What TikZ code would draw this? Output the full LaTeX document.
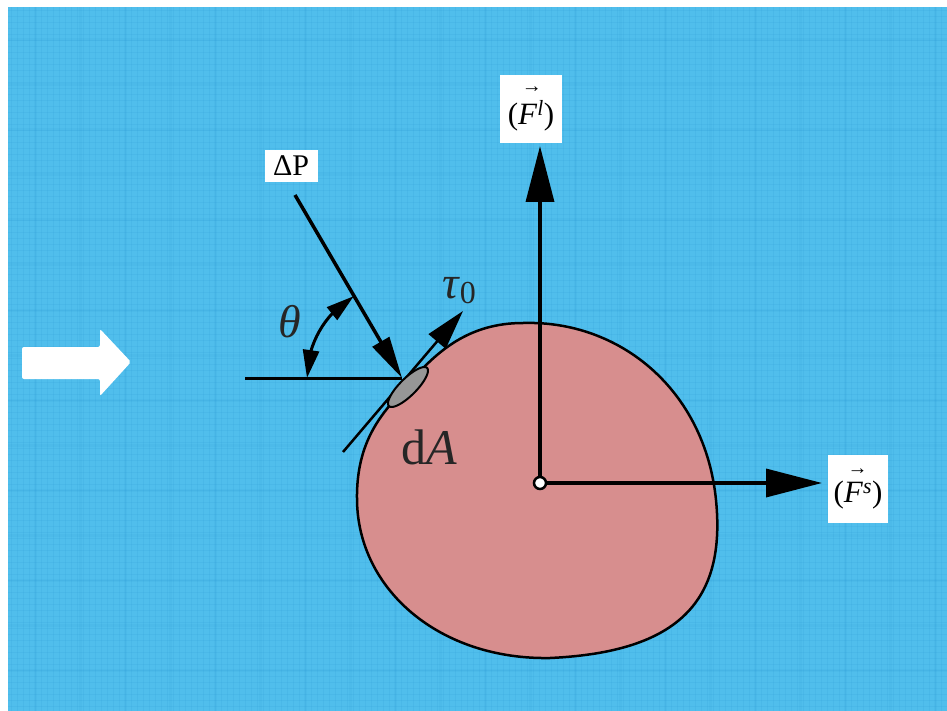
\documentclass[tikz,border=0pt]{standalone}
\usepackage{fontspec}
\setmainfont{Liberation Serif}
\usetikzlibrary{arrows.meta,bending,shapes.geometric}
\definecolor{bgblue}{RGB}{80,190,236}
\definecolor{gridblue}{RGB}{30,140,205}
\definecolor{blobcol}{RGB}{215,142,142}
\definecolor{dagray}{RGB}{150,150,150}
\tikzset{
  bigarrow/.style={line width=3.5pt, -{Triangle[length=56pt,width=28pt]}},
  thinarrow/.style={line width=3.5pt, -{Triangle[length=42pt,width=19pt]}},
  whitelabel/.style={fill=white, inner sep=0pt, text=black},
  textlabel/.style={inner sep=0pt, text=black!85}
}
\begin{document}
\begin{tikzpicture}[x=1pt,y=-1pt]
\useasboundingbox (0,0) rectangle (947,711);
\fill[white] (0,0) rectangle (947,711);
\fill[bgblue] (8,7) rectangle (947,711);
% grid texture
\foreach \x in {11,17,...,947} \draw[gridblue, opacity=0.10, line width=0.6pt] (\x,7) -- (\x,711);
\foreach \y in {10,16,...,711} \draw[gridblue, opacity=0.10, line width=0.6pt] (8,\y) -- (947,\y);
\foreach \x in {35,80,...,947} \draw[gridblue, opacity=0.08, line width=3pt] (\x,7) -- (\x,711);
\foreach \y in {40,85,...,711} \draw[gridblue, opacity=0.08, line width=3pt] (8,\y) -- (947,\y);

% flow arrow
\fill[white, rounded corners=2pt] (22,347) -- (100,347) -- (100,329) -- (131,362) -- (100,396) -- (100,379) -- (22,379) -- cycle;

% body
\draw[line width=2.5pt, fill=blobcol]
  (523,323) .. controls (620,320) and (705,390) .. (716,500)
            .. controls (726,600) and (680,652) .. (550,658)
            .. controls (440,660) and (358,590) .. (357,500)
            .. controls (356,440) and (383,412) .. (407,386)
            .. controls (437,350) and (470,323) .. (523,323) -- cycle;

% coordinates
\coordinate (Oc) at (540,483);
\coordinate (Ftop) at (540,146);
\coordinate (Fright) at (822,483);
\coordinate (A) at (402,378);
\coordinate (Hl) at (245,378);
\coordinate (P0) at (295,195);
\coordinate (T1) at (343,452);
\coordinate (T2) at (463,311);

% tangent with tau arrow
\draw[line width=2.5pt, -{Triangle[length=40pt,width=22pt]}] (T1) -- (T2);
% horizontal reference line
\draw[line width=3pt] (Hl) -- (A);
% Delta P arrow
\draw[thinarrow] (P0) -- (A);
% theta arc
\draw[line width=3pt, {Triangle[length=28pt,width=16pt]}-{Triangle[length=28pt,width=16pt]}]
  (A) ++(-95,0) arc[start angle=180, end angle=239.5, radius=95];
% dA patch
\node[ellipse, draw, line width=2pt, fill=dagray, minimum width=54pt, minimum height=17pt,
      inner sep=0pt, rotate=45] (dApatch) at (408,387) {};

% force arrows
\draw[bigarrow] (Oc) -- (Ftop);
\draw[bigarrow] (Oc) -- (Fright);
\node[circle, draw, line width=2.5pt, fill=white, inner sep=0pt, minimum size=12pt] (O) at (Oc) {};

% labels
\node[whitelabel, minimum width=53pt, minimum height=32pt] (dP) at (291,166)
  {\fontsize{30}{30}\selectfont ΔP};
\node[whitelabel, minimum width=62pt, minimum height=68pt] (Fl) at (531,109)
  {\shortstack[l]{\hspace{14pt}{\fontsize{20}{20}\selectfont →}\\[4pt]{\fontsize{31}{31}\selectfont(\textit{F}\textsuperscript{\textit{l}})}}};
\node[whitelabel, minimum width=60pt, minimum height=68pt] (Fs) at (858,489)
  {\shortstack[l]{\hspace{14pt}{\fontsize{20}{20}\selectfont →}\\[4pt]{\fontsize{31}{31}\selectfont(\textit{F}\textsuperscript{\textit{s}})}}};
\node[textlabel] (theta) at (290,322) {\fontsize{46}{46}\selectfont\textit{θ}};
\node[textlabel] (tau) at (459,291) {\fontsize{46}{46}\selectfont\textit{τ}\raisebox{-5pt}{\fontsize{32}{32}\selectfont 0}};
\node[textlabel] (dA) at (429,447) {\fontsize{50}{50}\selectfont d\textit{A}};
\end{tikzpicture}
\end{document}
